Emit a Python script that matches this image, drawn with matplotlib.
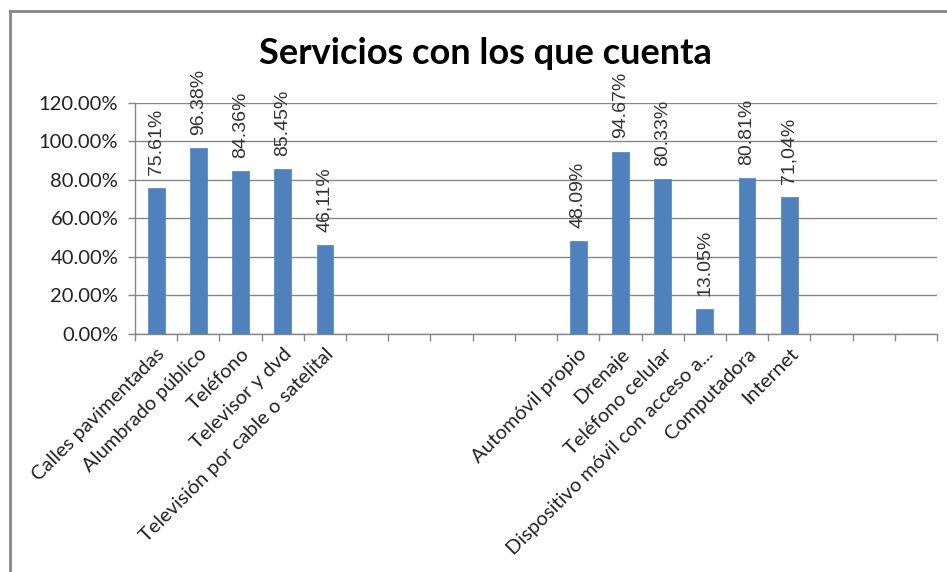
import matplotlib
matplotlib.use("Agg")
import matplotlib.pyplot as plt
from matplotlib.lines import Line2D

categories = ["Calles pavimentadas", "Alumbrado público", "Teléfono", "Televisor y dvd",
              "Televisión por cable o satelital", "", "", "", "", "",
              "Automóvil propio", "Drenaje", "Teléfono celular",
              "Dispositivo móvil con acceso a...", "Computadora", "Internet", "", "", ""]
values = [75.61, 96.38, 84.36, 85.45, 46.11, None, None, None, None, None,
          48.09, 94.67, 80.33, 13.05, 80.81, 71.04, None, None, None]
value_labels = ["75.61%", "96.38%", "84.36%", "85.45%", "46,11%", "", "", "", "", "",
                "48.09%", "94.67%", "80.33%", "13.05%", "80.81%", "71,04%", "", "", ""]
yticks = [0, 20, 40, 60, 80, 100, 120]
title = "Servicios con los que cuenta"

W, H = 947, 572
fig = plt.figure(figsize=(W / 100, H / 100), dpi=100)
fig.patch.set_facecolor("white")

L, R, T, B = 135, 937, 102.7, 334
ax = fig.add_axes([L / W, 1 - B / H, (R - L) / W, (B - T) / H])

grey = "#868686"
x = list(range(len(categories)))
for i, v in enumerate(values):
    if v is None:
        continue
    ax.bar(i, v / 100, width=0.4, color="#4F81BD", edgecolor="#4F81BD", linewidth=0.5, zorder=3)
    ax.annotate(value_labels[i], (i, v / 100), xytext=(0, 9.5), textcoords="offset points",
                rotation=90, ha="center", va="bottom", fontsize=14,
                family="Liberation Sans", color="#333333")

ax.set_xlim(-0.5, len(categories) - 0.5)
ax.set_ylim(0, 1.2)
ax.set_yticks([t / 100 for t in yticks])
ax.set_yticklabels([f"{t:.2f}%" for t in yticks], family="Lato", fontsize=14.5, color="#222222")
ax.yaxis.grid(True, color=grey, linewidth=1.0, zorder=0)
ax.set_axisbelow(True)

# major ticks at category boundaries, labels at centers
ax.set_xticks([i - 0.5 for i in range(len(categories) + 1)])
ax.set_xticklabels([])
ax.set_xticks(x, minor=True)
ax.set_xticklabels(categories, minor=True, rotation=45, ha="right", va="top",
                   rotation_mode="anchor", family="Lato", fontsize=14.5, color="#222222")
ax.tick_params(axis="x", which="minor", length=0, pad=8)
ax.tick_params(axis="x", which="major", length=5, color=grey, width=1)
ax.tick_params(axis="y", length=5, color=grey, width=1, pad=7)

for s in ["top", "right"]:
    ax.spines[s].set_visible(False)
for s in ["left", "bottom"]:
    ax.spines[s].set_color(grey)
    ax.spines[s].set_linewidth(1.0)

fig.text(485 / W, 1 - 54 / H, title, ha="center", va="center", family="Lato",
         fontweight="bold", fontsize=26, color="black")

# chart border (left and top visible)
fig.add_artist(Line2D([10 / W, 10 / W], [0, 1 - 11 / H], transform=fig.transFigure,
                      color=grey, linewidth=2))
fig.add_artist(Line2D([10 / W, 1], [1 - 11 / H, 1 - 11 / H], transform=fig.transFigure,
                      color=grey, linewidth=2))

fig.savefig("out.png", dpi=100)
